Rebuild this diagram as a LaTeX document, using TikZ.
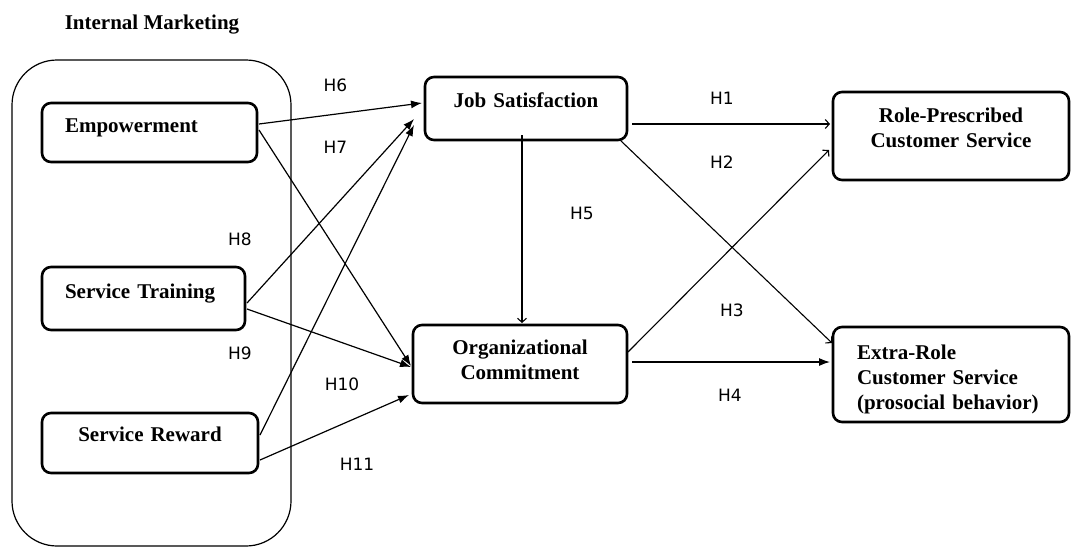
\documentclass[tikz,border=0pt]{standalone}
\usepackage{fontspec}
\setmainfont{Liberation Serif}
\newfontfamily\hfont{DejaVu Sans}
\usetikzlibrary{arrows.meta}
\tikzset{
  box/.style={draw, line width=2.6pt, rounded corners=9pt, outer sep=0pt, inner ysep=0pt,
    anchor=north west, font=\fontsize{21}{25}\selectfont\bfseries},
  hlab/.style={font=\hfont\fontsize{17}{20}\selectfont, inner sep=0pt},
  fa/.style={line width=1.2pt, -{Latex[length=11pt,width=8pt]}},
  oa/.style={line width=1.1pt, -{Straight Barb[length=4pt,width=9pt]}},
}
\begin{document}
\begin{tikzpicture}[x=1pt,y=1pt]
\useasboundingbox (0,0) rectangle (1071,-547);
% container
\node[draw, line width=1.2pt, rounded corners=45pt, outer sep=0pt, anchor=north west,
  minimum width=279pt, minimum height=486pt, inner sep=0pt] (im) at (12,-60) {};
\node[font=\fontsize{21}{25}\selectfont\bfseries, inner sep=0pt] (title) at (152,-25) {Internal Marketing};
% boxes
\node[box, inner xsep=23pt, text width=169pt, text height=29pt, text depth=30pt, align=left] (emp) at (42,-103) {Empowerment};
\node[box, inner xsep=23pt, text width=157pt, text height=31pt, text depth=32pt, align=left] (st) at (42,-267) {Service Training};
\node[box, inner xsep=0pt, text width=216pt, text height=28pt, text depth=32pt, align=center] (sr) at (42,-413) {Service Reward};
\node[box, inner xsep=0pt, text width=202pt, text height=30pt, text depth=33pt, align=center] (js) at (425,-77) {Job Satisfaction};
\node[box, inner xsep=0pt, text width=214pt, text height=29pt, text depth=49pt, align=center] (oc) at (413,-325) {Organizational\\Commitment};
\node[box, inner xsep=0pt, text width=236pt, text height=30pt, text depth=58pt, align=center] (rp) at (833,-92) {Role-Prescribed\\Customer Service};
\node[box, inner xsep=24pt, text width=188pt, text height=32pt, text depth=63pt, align=left] (er) at (833,-327) {Extra-Role\\Customer Service\\(prosocial behavior)};
% connectors
\draw[fa] ([xshift=2pt,yshift=8.5pt]emp.east) -- ([xshift=-3pt,yshift=5.5pt]js.west);
\draw[fa] ([xshift=2pt,yshift=2.5pt]emp.east) -- ([xshift=-2pt,yshift=-2pt]oc.west);
\draw[fa] ([xshift=2pt,yshift=-4.5pt]st.east) -- ([xshift=-11pt,yshift=-10.5pt]js.west);
\draw[fa] ([xshift=2pt,yshift=-10.5pt]st.east) -- ([xshift=-2pt,yshift=-3pt]oc.west);
\draw[fa] ([xshift=2pt,yshift=8pt]sr.east) -- ([xshift=-11pt,yshift=-16.5pt]js.west);
\draw[fa] ([xshift=2pt,yshift=-17pt]sr.east) -- ([xshift=-4pt,yshift=-31pt]oc.west);
\draw[oa] ([xshift=-4pt,yshift=5pt]js.south) -- ([xshift=2pt,yshift=2pt]oc.north);
\draw[oa] ([xshift=5pt,yshift=-15.5pt]js.east) -- ([xshift=-3pt,yshift=12pt]rp.west);
\draw[oa] ([xshift=-7pt]js.south east) -- ([xshift=-1pt,yshift=31.5pt]er.west);
\draw[oa] ([xshift=1pt,yshift=12pt]oc.east) -- ([xshift=-4pt,yshift=-14pt]rp.west);
\draw[fa] ([xshift=5pt,yshift=2pt]oc.east) -- ([xshift=-3pt,yshift=12.5pt]er.west);
% labels
\node[hlab] (h6) at (335.5,-85.5) {H6};
\node[hlab] (h7) at (335.5,-147) {H7};
\node[hlab] (h8) at (240,-239) {H8};
\node[hlab] (h9) at (240,-353) {H9};
\node[hlab] (h10) at (342,-384) {H10};
\node[hlab] (h11) at (357,-464) {H11};
\node[hlab] (h1) at (722,-98.5) {H1};
\node[hlab] (h2) at (722,-162) {H2};
\node[hlab] (h5) at (582,-213.5) {H5};
\node[hlab] (h3) at (732,-310) {H3};
\node[hlab] (h4) at (730,-395) {H4};
\end{tikzpicture}
\end{document}
